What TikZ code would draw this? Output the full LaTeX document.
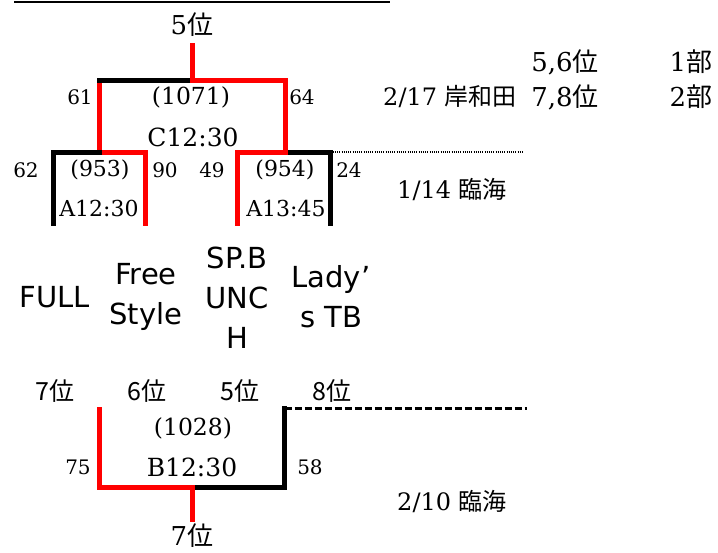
\documentclass[tikz,border=0pt]{standalone}
\usepackage{fontspec}
\setmainfont{DejaVu Serif}
\newfontfamily\cjk{Noto Sans CJK JP}
\newfontfamily\gothic{DejaVu Sans}
\begin{document}
\begin{tikzpicture}[x=1pt,y=-1pt,
  redline/.style={line width=5pt, red, line cap=rect},
  blkline/.style={line width=5pt, black, line cap=rect},
  dotline/.style={line width=2pt, dash pattern=on 1pt off 1.2pt},
  dashline/.style={line width=3pt, dash pattern=on 7pt off 3pt},
  numlbl/.style={inner sep=0pt, font=\fontsize{20}{24}\selectfont},
  gamelbl/.style={inner sep=0pt, font=\fontsize{23.5}{28}\selectfont},
  smallgame/.style={inner sep=0pt, font=\fontsize{22}{26}\selectfont},
  timelbl/.style={inner sep=0pt, font=\fontsize{22}{26}\selectfont},
  bigtime/.style={inner sep=0pt, font=\fontsize{25}{30}\selectfont},
  ranklbl/.style={inner sep=0pt, font=\fontsize{26}{30}\selectfont},
  sidelbl/.style={inner sep=0pt, font=\fontsize{26}{30}\selectfont},
  venuelbl/.style={inner sep=0pt, font=\fontsize{24}{28}\selectfont},
  sanslbl/.style={inner sep=0pt, align=center, font=\gothic\fontsize{29}{40}\selectfont},
  gothlbl/.style={inner sep=0pt, font=\cjk\fontsize{25}{30}\selectfont}]
\useasboundingbox (0,0) rectangle (718,552);
\coordinate (rule0) at (14,2);
\coordinate (rule1) at (390,2);
\draw[line width=2pt] (rule0) -- (rule1);
\coordinate (c0) at (192,45.5);
\coordinate (c1) at (192,80);
\coordinate (c2) at (99.5,80);
\coordinate (c3) at (285,80);
\coordinate (c4) at (99.5,152);
\coordinate (c5) at (285,152);
\draw[redline] (c2) -- (c4);
\draw[redline] (c3) -- (c5);
\draw[blkline] (c1) -- (c2);
\draw[redline] (c1) -- (c3);
\draw[redline] (c0) -- (c1);
\coordinate (a0) at (53,152);
\coordinate (a1) at (145.5,152);
\coordinate (a2) at (53,223);
\coordinate (a3) at (145.5,223);
\draw[blkline] (a0) -- (a2);
\draw[redline] (a1) -- (a3);
\draw[redline] (c4) -- (a1);
\draw[blkline] (c4) -- (a0);
\coordinate (b0) at (237.5,152);
\coordinate (b1) at (330.5,152);
\coordinate (b2) at (237.5,223);
\coordinate (b3) at (330.5,223);
\coordinate (b4) at (523,152);
\draw[redline] (b0) -- (b2);
\draw[blkline] (b1) -- (b3);
\draw[blkline] (c5) -- (b1);
\draw[redline] (c5) -- (b0);
\draw[dotline] (b1) -- (b4);
\coordinate (e0) at (99.5,409.5);
\coordinate (e1) at (99.5,487);
\coordinate (e2) at (192,487);
\coordinate (e3) at (284.5,487);
\coordinate (e4) at (284.5,408);
\coordinate (e5) at (192,519.5);
\coordinate (e6) at (527,408);
\draw[redline] (e0) -- (e1);
\draw[blkline] (e4) -- (e3);
\draw[blkline] (e2) -- (e3);
\draw[redline] (e1) -- (e2);
\draw[redline] (e2) -- (e5);
\draw[dashline] (e4) -- (e6);
\node[ranklbl] (ctop) at (192,25) {5\cjk 位};
\node[gamelbl] (cgame) at (191,97) {(1071)};
\node[bigtime] (ctime) at (193,137) {C12:30};
\node[numlbl] (c61) at (80,97) {61};
\node[numlbl] (c64) at (302,97) {64};
\node[smallgame] (agame) at (100,170) {(953)};
\node[timelbl] (atime) at (99,208) {A12:30};
\node[numlbl] (a62) at (26,170) {62};
\node[numlbl] (a90) at (165,170) {90};
\node[smallgame] (bgame) at (285,170) {(954)};
\node[timelbl] (btime) at (286,208) {A13:45};
\node[numlbl] (b49) at (212,170) {49};
\node[numlbl] (b24) at (349,170) {24};
\node[sidelbl] (r56) at (565,62) {5,6\cjk 位};
\node[sidelbl] (r1) at (691,62) {1\cjk 部};
\node[sidelbl] (r78) at (565,97) {7,8\cjk 位};
\node[sidelbl] (r2) at (691,97) {2\cjk 部};
\node[venuelbl] (v217) at (450,97) {2/17 {\cjk 岸和田}};
\node[venuelbl] (v114) at (452,190) {1/14 {\cjk 臨海}};
\node[venuelbl] (v210) at (452,502) {2/10 {\cjk 臨海}};
\node[sanslbl] (full) at (55,297) {FULL};
\node[sanslbl] (free) at (146,297) {Free\\Style};
\node[sanslbl] (spb) at (237,298) {SP.B\\UNC\\H};
\node[sanslbl] (lady) at (331,297) {Lady’\\s TB};
\node[gothlbl] (g7) at (55,391) {7位};
\node[gothlbl] (g6) at (147,391) {6位};
\node[gothlbl] (g5) at (240,391) {5位};
\node[gothlbl] (g8) at (332,391) {8位};
\node[gamelbl] (egame) at (193,428) {(1028)};
\node[bigtime] (etime) at (192,467) {B12:30};
\node[numlbl] (e75) at (78,467) {75};
\node[numlbl] (e58) at (310,467) {58};
\node[ranklbl] (ebot) at (192,536) {7\cjk 位};
\end{tikzpicture}
\end{document}
